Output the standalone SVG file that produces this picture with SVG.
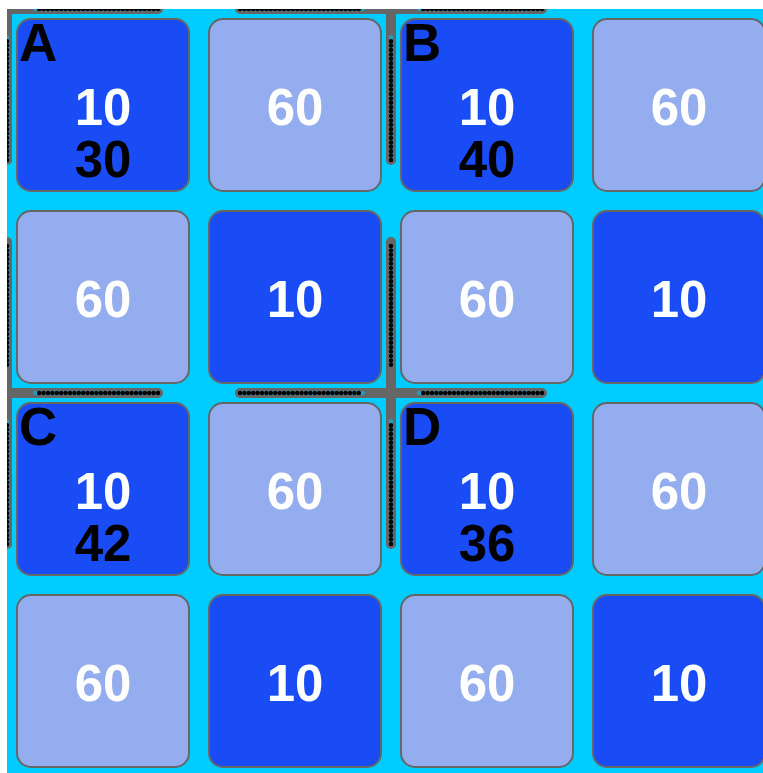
<svg xmlns="http://www.w3.org/2000/svg" width="763" height="773" viewBox="0 0 763 773">
<style>
.cell{stroke:#666666;stroke-width:2}
.dk{fill:#1a4cf5}
.lt{fill:#93adee}
.t{font-family:"Liberation Sans",Arial,sans-serif;font-weight:bold;text-anchor:middle}
.n{font-size:51px;fill:#ffffff}
.m{font-size:51px;fill:#000000}
.l{font-family:"Liberation Sans",Arial,sans-serif;font-weight:bold;font-size:53px;fill:#000000}
.bar{stroke:#666666;stroke-width:10;stroke-linecap:round;fill:none}
.in{stroke:#1d9fc0;stroke-width:4;stroke-linecap:round;fill:none}
.dot{stroke:#000000;stroke-width:4.5;stroke-linecap:round;stroke-dasharray:0 4.4;fill:none}
</style>
<defs>
<clipPath id="clip"><rect x="7" y="9" width="756" height="764"/></clipPath>
</defs>
<rect x="0" y="0" width="763" height="773" fill="#ffffff"/>
<rect x="7" y="9" width="756" height="764" fill="#00ccff"/>
<g id="walls" clip-path="url(#clip)">
<path class="bar" d="M-144 9H158M7 -142V160M240 9H542M391 -142V160M-144 393H158M7 242V544M240 393H542M391 242V544"/>
<path class="in" d="M35 9H158M7 37V160M240 9H363M419 9H542M391 37V160M35 393H158M7 246V365M7 421V544M240 393H363M419 393H542M391 246V365M391 421V544"/>
<path class="dot" d="M158 9H35M7 160V37M240 9H363M542 9H419M391 160V37M158 393H35M7 246V365M7 544V421M240 393H363M542 393H419M391 246V365M391 544V421"/>
</g>
<g id="cellA"><rect class="cell dk" x="17" y="19" width="172" height="172" rx="14"/><text class="l" x="19" y="61">A</text><text class="t n" x="103" y="125">10</text><text class="t m" x="103" y="177">30</text></g>
<g id="cell01"><rect class="cell lt" x="209" y="19" width="172" height="172" rx="14"/><text class="t n" x="295" y="125">60</text></g>
<g id="cellB"><rect class="cell dk" x="401" y="19" width="172" height="172" rx="14"/><text class="l" x="403" y="61">B</text><text class="t n" x="487" y="125">10</text><text class="t m" x="487" y="177">40</text></g>
<g id="cell03"><rect class="cell lt" x="593" y="19" width="172" height="172" rx="14"/><text class="t n" x="679" y="125">60</text></g>
<g id="cell10"><rect class="cell lt" x="17" y="211" width="172" height="172" rx="14"/><text class="t n" x="103" y="317">60</text></g>
<g id="cell11"><rect class="cell dk" x="209" y="211" width="172" height="172" rx="14"/><text class="t n" x="295" y="317">10</text></g>
<g id="cell12"><rect class="cell lt" x="401" y="211" width="172" height="172" rx="14"/><text class="t n" x="487" y="317">60</text></g>
<g id="cell13"><rect class="cell dk" x="593" y="211" width="172" height="172" rx="14"/><text class="t n" x="679" y="317">10</text></g>
<g id="cellC"><rect class="cell dk" x="17" y="403" width="172" height="172" rx="14"/><text class="l" x="19" y="445">C</text><text class="t n" x="103" y="509">10</text><text class="t m" x="103" y="561">42</text></g>
<g id="cell21"><rect class="cell lt" x="209" y="403" width="172" height="172" rx="14"/><text class="t n" x="295" y="509">60</text></g>
<g id="cellD"><rect class="cell dk" x="401" y="403" width="172" height="172" rx="14"/><text class="l" x="403" y="445">D</text><text class="t n" x="487" y="509">10</text><text class="t m" x="487" y="561">36</text></g>
<g id="cell23"><rect class="cell lt" x="593" y="403" width="172" height="172" rx="14"/><text class="t n" x="679" y="509">60</text></g>
<g id="cell30"><rect class="cell lt" x="17" y="595" width="172" height="172" rx="14"/><text class="t n" x="103" y="701">60</text></g>
<g id="cell31"><rect class="cell dk" x="209" y="595" width="172" height="172" rx="14"/><text class="t n" x="295" y="701">10</text></g>
<g id="cell32"><rect class="cell lt" x="401" y="595" width="172" height="172" rx="14"/><text class="t n" x="487" y="701">60</text></g>
<g id="cell33"><rect class="cell dk" x="593" y="595" width="172" height="172" rx="14"/><text class="t n" x="679" y="701">10</text></g>
</svg>
